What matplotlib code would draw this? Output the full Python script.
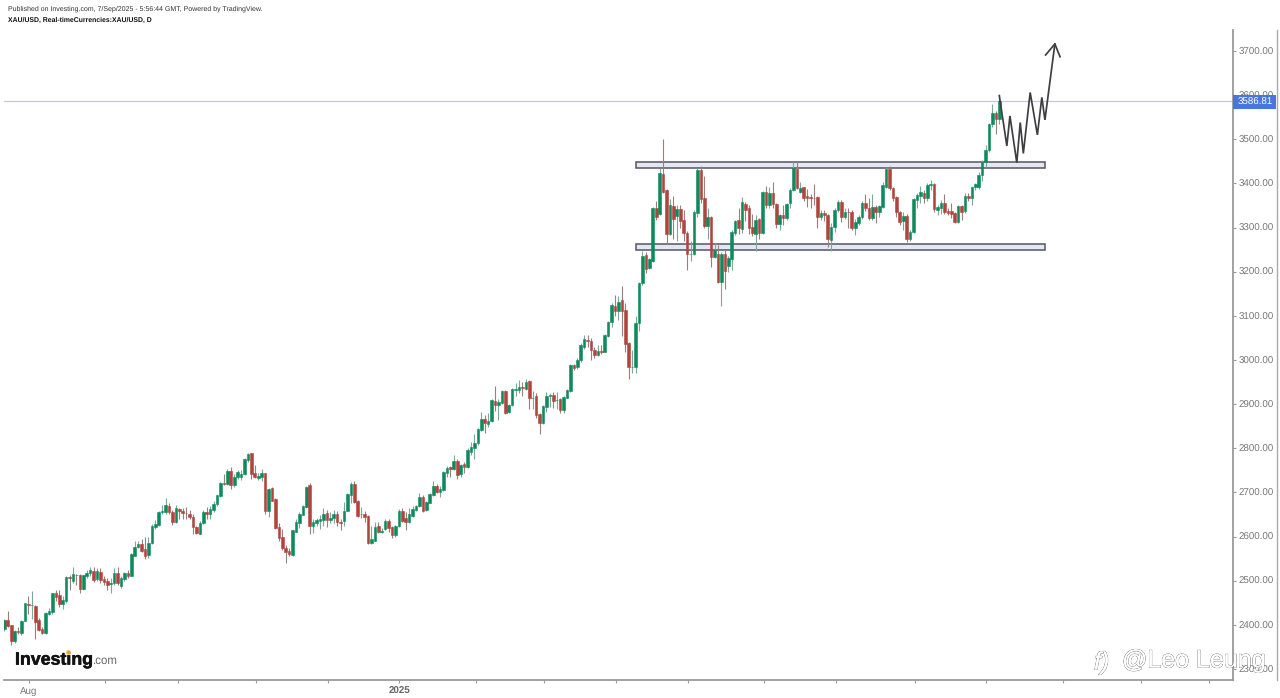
import matplotlib
matplotlib.use('Agg')
import matplotlib.pyplot as plt
import matplotlib.patheffects as pe
from matplotlib.patches import Rectangle

plt.rcParams['font.family'] = ['Liberation Sans', 'DejaVu Sans']
plt.rcParams['text.hinting'] = 'none'

# daily XAU/USD candles
opens = [
    2391, 2410, 2399, 2364, 2385, 2382, 2409, 2447, 2444, 2443, 2410, 2390, 2381, 2425, 2430, 2473,
    2468, 2447, 2455, 2509, 2499, 2513, 2512, 2481, 2511, 2518, 2523, 2503, 2520, 2504, 2500, 2493,
    2494, 2517, 2487, 2504, 2517, 2511, 2556, 2577, 2583, 2572, 2558, 2586, 2622, 2627, 2655, 2656,
    2669, 2656, 2634, 2662, 2658, 2654, 2652, 2645, 2622, 2606, 2630, 2656, 2651, 2661, 2673, 2692,
    2721, 2719, 2749, 2717, 2735, 2735, 2742, 2774, 2789, 2743, 2732, 2736, 2743, 2659, 2709, 2685,
    2622, 2598, 2575, 2567, 2559, 2611, 2631, 2649, 2668, 2717, 2624, 2631, 2635,
    2638, 2654, 2637, 2642, 2651, 2632, 2635, 2659, 2694, 2719, 2681, 2650, 2652, 2647, 2586, 2591,
    2623, 2610, 2616, 2635, 2622, 2603, 2624, 2658, 2641, 2633, 2647, 2660, 2669, 2689, 2660, 2677,
    2695, 2714, 2701, 2705, 2744, 2757, 2754, 2771, 2742, 2765, 2758, 2792, 2800, 2813, 2842, 2866,
    2854, 2862, 2908, 2897, 2902, 2930, 2882, 2897, 2933, 2932, 2939, 2935, 2953, 2915, 2919, 2878,
    2857, 2893, 2919, 2920, 2909, 2912, 2887, 2915, 2930, 2989, 2983,
    2999, 3030, 3045, 3044, 3023, 3012, 3021, 3019, 3055, 3085, 3123, 3110, 3135, 3113, 3039, 2983,
    2983, 3083,
    3174, 3238, 3209, 3225, 3344, 3331, 3421, 3384, 3285, 3348, 3326, 3342, 3317, 3288, 3240, 3239,
    3334, 3430, 3366, 3304, 3325, 3233, 3240, 3176, 3240, 3213, 3228, 3288, 3317, 3297, 3353, 3344,
    3302, 3285, 3320, 3288, 3381, 3351, 3378, 3353, 3307, 3328, 3321, 3356, 3384, 3432, 3381, 3391,
    3372, 3370, 3368, 3370, 3323, 3332, 3329, 3272,
    3302, 3340, 3358, 3325, 3336, 3336, 3300, 3311, 3325, 3355, 3345, 3321, 3347, 3336, 3347, 3392,
    3432, 3389, 3370, 3336, 3315, 3326, 3274, 3289, 3362, 3371, 3379, 3366, 3397, 3398, 3340, 3344,
    3355, 3337, 3337, 3334, 3313, 3349, 3337, 3372, 3366, 3391, 3393, 3418, 3448, 3476, 3534, 3560,
    3545,
]
highs = [
    2413, 2432, 2400, 2388, 2395, 2410, 2450, 2465, 2477, 2445, 2415, 2395, 2428, 2437, 2473, 2480,
    2478, 2465, 2510, 2513, 2530, 2515, 2515, 2514, 2525, 2530, 2530, 2528, 2528, 2510, 2505, 2505,
    2528, 2530, 2510, 2520, 2525, 2562, 2590, 2590, 2595, 2598, 2600, 2628, 2637, 2658, 2672, 2687,
    2675, 2660, 2672, 2665, 2665, 2668, 2660, 2650, 2625, 2635, 2660, 2668, 2670, 2680, 2695, 2724,
    2742, 2752, 2757, 2742, 2750, 2750, 2778, 2790, 2790, 2763, 2745, 2752, 2745, 2710, 2712, 2687,
    2630, 2618, 2580, 2575, 2615, 2640, 2656, 2672, 2715, 2722, 2640, 2642, 2648,
    2665, 2660, 2655, 2660, 2658, 2640, 2678, 2698, 2724, 2725, 2683, 2668, 2658, 2648, 2625, 2633,
    2634, 2620, 2640, 2640, 2625, 2627, 2663, 2665, 2655, 2665, 2670, 2672, 2698, 2695, 2680, 2698,
    2725, 2718, 2715, 2748, 2760, 2760, 2785, 2775, 2765, 2770, 2800, 2815, 2833, 2845, 2883, 2875,
    2880, 2912, 2942, 2912, 2932, 2932, 2900, 2937, 2947, 2955, 2950, 2957, 2955, 2930, 2925, 2880,
    2897, 2927, 2925, 2927, 2927, 2915, 2919, 2935, 2990, 2992, 3005,
    3038, 3056, 3057, 3050, 3030, 3035, 3035, 3060, 3088, 3130, 3148, 3145, 3168, 3130, 3040, 3023,
    3100, 3177,
    3246, 3245, 3232, 3347, 3360, 3435, 3500, 3388, 3365, 3371, 3350, 3350, 3340, 3292, 3270, 3340,
    3435, 3440, 3416, 3345, 3327, 3265, 3260, 3245, 3250, 3235, 3295, 3318, 3345, 3370, 3358, 3350,
    3330, 3328, 3322, 3383, 3395, 3392, 3404, 3355, 3330, 3350, 3355, 3390, 3448, 3450, 3404, 3393,
    3388, 3375, 3398, 3372, 3340, 3340, 3330, 3310,
    3345, 3362, 3362, 3345, 3345, 3340, 3320, 3328, 3360, 3375, 3368, 3376, 3352, 3352, 3404, 3437,
    3439, 3392, 3372, 3338, 3335, 3330, 3295, 3367, 3378, 3395, 3385, 3402, 3407, 3400, 3352, 3362,
    3375, 3345, 3355, 3336, 3352, 3350, 3378, 3378, 3395, 3402, 3425, 3452, 3488, 3537, 3580, 3565,
    3600,
]
lows = [
    2385, 2395, 2354, 2358, 2380, 2378, 2408, 2425, 2413, 2367, 2385, 2380, 2380, 2423, 2425, 2455,
    2440, 2435, 2450, 2480, 2495, 2490, 2472, 2478, 2505, 2510, 2498, 2500, 2495, 2490, 2480, 2473,
    2490, 2490, 2483, 2500, 2505, 2510, 2555, 2575, 2564, 2550, 2552, 2584, 2618, 2625, 2650, 2650,
    2650, 2627, 2630, 2640, 2640, 2640, 2640, 2605, 2605, 2605, 2628, 2640, 2640, 2655, 2670, 2690,
    2716, 2716, 2708, 2712, 2730, 2727, 2740, 2770, 2730, 2732, 2728, 2725, 2652, 2645, 2680, 2617,
    2590, 2570, 2539, 2556, 2557, 2610, 2620, 2648, 2665, 2605, 2608, 2625, 2618,
    2625, 2622, 2630, 2630, 2625, 2614, 2625, 2657, 2676, 2676, 2645, 2643, 2634, 2584, 2584, 2590,
    2608, 2609, 2615, 2610, 2597, 2600, 2622, 2634, 2615, 2630, 2645, 2658, 2667, 2655, 2657, 2675,
    2692, 2698, 2690, 2703, 2735, 2735, 2750, 2730, 2735, 2745, 2755, 2785, 2775, 2808, 2840, 2835,
    2848, 2860, 2885, 2865, 2900, 2878, 2880, 2895, 2918, 2925, 2918, 2933, 2890, 2888, 2868, 2833,
    2855, 2882, 2893, 2892, 2890, 2880, 2881, 2913, 2928, 2978, 2980,
    2995, 3025, 3030, 3000, 3005, 3008, 3014, 3017, 3053, 3075, 3100, 3090, 3055, 3018, 2957, 2970,
    2970, 3065,
    3170, 3198, 3207, 3222, 3317, 3328, 3378, 3263, 3283, 3273, 3270, 3300, 3270, 3204, 3225, 3238,
    3325, 3355, 3300, 3275, 3210, 3230, 3175, 3122, 3160, 3200, 3205, 3283, 3285, 3288, 3315, 3285,
    3280, 3246, 3275, 3286, 3345, 3345, 3345, 3300, 3295, 3305, 3318, 3345, 3382, 3387, 3378, 3360,
    3347, 3345, 3352, 3298, 3318, 3315, 3255, 3248,
    3290, 3335, 3312, 3320, 3300, 3295, 3283, 3305, 3320, 3338, 3318, 3318, 3310, 3325, 3344, 3390,
    3385, 3360, 3325, 3305, 3295, 3268, 3270, 3287, 3345, 3355, 3355, 3360, 3385, 3335, 3328, 3330,
    3330, 3328, 3322, 3311, 3311, 3318, 3333, 3360, 3350, 3385, 3388, 3405, 3438, 3472, 3527, 3512,
    3535,
]
closes = [
    2411, 2397, 2364, 2387, 2384, 2408, 2449, 2444, 2445, 2407, 2388, 2381, 2426, 2432, 2471, 2464,
    2447, 2456, 2508, 2505, 2515, 2512, 2482, 2513, 2517, 2524, 2502, 2523, 2502, 2498, 2491, 2494,
    2517, 2494, 2505, 2517, 2511, 2560, 2577, 2583, 2567, 2556, 2586, 2624, 2628, 2656, 2658, 2671,
    2656, 2634, 2664, 2657, 2654, 2653, 2644, 2622, 2607, 2630, 2656, 2651, 2662, 2673, 2693, 2721,
    2720, 2749, 2717, 2736, 2747, 2742, 2776, 2786, 2742, 2734, 2737, 2743, 2659, 2708, 2681, 2620,
    2596, 2573, 2564, 2560, 2614, 2632, 2651, 2670, 2712, 2624, 2632, 2637, 2640,
    2652, 2637, 2643, 2651, 2632, 2631, 2659, 2696, 2720, 2678, 2647, 2650, 2644, 2586, 2594, 2622,
    2611, 2613, 2635, 2620, 2604, 2624, 2659, 2636, 2633, 2650, 2662, 2669, 2689, 2658, 2678, 2696,
    2714, 2701, 2708, 2746, 2755, 2752, 2772, 2740, 2762, 2758, 2795, 2802, 2813, 2843, 2866, 2857,
    2862, 2909, 2897, 2905, 2929, 2881, 2898, 2935, 2934, 2939, 2936, 2951, 2915, 2915, 2875, 2857,
    2895, 2919, 2920, 2908, 2910, 2887, 2917, 2932, 2988, 2982, 3001,
    3034, 3048, 3043, 3023, 3011, 3020, 3018, 3057, 3085, 3125, 3112, 3132, 3112, 3037, 2983, 2984,
    3083, 3175,
    3236, 3206, 3228, 3345, 3325, 3424, 3381, 3285, 3350, 3319, 3342, 3316, 3287, 3240, 3240, 3336,
    3430, 3364, 3304, 3325, 3233, 3249, 3177, 3240, 3202, 3230, 3291, 3315, 3298, 3358, 3340, 3300,
    3288, 3317, 3288, 3381, 3351, 3378, 3353, 3308, 3328, 3321, 3353, 3385, 3434, 3389, 3389, 3366,
    3368, 3366, 3367, 3323, 3332, 3329, 3273, 3302,
    3340, 3358, 3325, 3336, 3335, 3300, 3313, 3323, 3355, 3344, 3321, 3347, 3336, 3349, 3396, 3432,
    3389, 3366, 3336, 3312, 3326, 3274, 3291, 3364, 3374, 3380, 3368, 3396, 3399, 3342, 3347, 3355,
    3335, 3334, 3330, 3313, 3349, 3336, 3371, 3366, 3392, 3398, 3419, 3449, 3476, 3535, 3560, 3545,
    3586.81,
]

last_price = 3586.81
y_ticks = [2300, 2400, 2500, 2600, 2700, 2800, 2900, 3000, 3100, 3200, 3300, 3400, 3500, 3600, 3700]
month_ticks = [7.2, 29.2, 50.6, 73.4, 94.3, 115.1, 137.4, 157.3, 178.3, 199.3, 221.4, 242.4,
               265.3, 286.2, 308.5, 331.3, 351.1]
tick_labels = {7.2: ('Aug', 'normal'), 115.1: ('2025', 'bold')}

# hand drawn range boxes and projected path
box_left, box_right = 184.0, 303.3
upper_box = (3435, 3449)
lower_box = (3249, 3263)
path_x = [290, 292.2, 293.1, 295.1, 296.1, 297, 299, 301.1, 302.4, 303.3, 306.2]
path_y = [3599, 3485, 3553, 3447, 3538, 3468, 3606, 3510, 3595, 3544, 3716]
head_x = [303.5, 306.2, 307.7]
head_y = [3691, 3716, 3687]

GREEN = '#0e8a5d'
RED = '#b1453e'
WICK_G = '#7fa797'
WICK_R = '#9a807c'
TXT = '#777777'
AXIS = '#9a9a9a'

W, H = 1280, 698
fig = plt.figure(figsize=(W / 100, H / 100), dpi=100)
ax = fig.add_axes([4 / W, 1 - 680 / H, (1233 - 4) / W, (680 - 30) / H])

n = len(opens)
step = 3.431
xs = list(range(n))

up = [c >= o for o, c in zip(opens, closes)]
ax.vlines(xs, lows, highs, colors=[WICK_G if u else WICK_R for u in up], linewidth=0.8, zorder=2)
for x, o, c, u in zip(xs, opens, closes, up):
    col = GREEN if u else RED
    ax.bar(x, abs(c - o), bottom=min(o, c), width=0.76, color=col, edgecolor=col, linewidth=0.4, zorder=3)

ax.set_xlim(-0.1, (1233 - 4.3) / step)
ax.set_ylim(2275, 3747.6)

ax.axhline(last_price, color='#c3c8d6', linewidth=0.9, zorder=1)

# boxes sit under the candles so wicks and bodies show through
for lo, hi in (upper_box, lower_box):
    ax.add_patch(Rectangle((box_left, lo), box_right - box_left, hi - lo, facecolor='#e4e8f6',
                           edgecolor='#55565c', linewidth=1.1, zorder=1.5))

ax.plot(path_x, path_y, color='#3f3f42', linewidth=1.25, solid_joinstyle='miter', zorder=5)
ax.plot(head_x, head_y, color='#3f3f42', linewidth=1.25, solid_joinstyle='miter', zorder=5)

for side in ('top', 'left'):
    ax.spines[side].set_visible(False)
for side in ('right', 'bottom'):
    ax.spines[side].set_color(AXIS)
    ax.spines[side].set_linewidth(1.3)

ax.yaxis.tick_right()
ax.set_yticks(y_ticks)
ax.set_yticklabels(['%.2f' % v for v in y_ticks], fontsize=7, color=TXT)
ax.tick_params(axis='y', length=2.5, width=0.8, color=AXIS, pad=1.2)
ax.set_xticks(month_ticks)
ax.set_xticklabels([''] * len(month_ticks))
ax.tick_params(axis='x', length=2.5, width=0.8, color=AXIS)

for pos, (label, weight) in tick_labels.items():
    ax.annotate(label, (pos, 0), xycoords=('data', 'axes fraction'), xytext=(0, -4.5),
                textcoords='offset points', ha='center', va='top', fontsize=7,
                color=TXT if weight == 'normal' else '#666666', fontweight=weight)

# outer frame line right of the price scale
fig.add_artist(plt.Line2D([1276.5 / W, 1276.5 / W], [1 - 680 / H, 1 - 30 / H], color='#aaaaaa', linewidth=1.0))

# last price tag
fig.add_artist(Rectangle((1233 / W, 1 - 108.5 / H), 43 / W, 13.5 / H, transform=fig.transFigure,
                         facecolor='#4a74e0', edgecolor='none', zorder=6))
fig.text(1255 / W, 1 - 102 / H, '3586.81', fontsize=7, color='white', ha='center', va='center', zorder=7)

fig.text(8 / W, 1 - 8.5 / H, 'Published on Investing.com, 7/Sep/2025 - 5:56:44 GMT, Powered by TradingView.',
         fontsize=5.0, color='#333333', va='center')
fig.text(8 / W, 1 - 20.5 / H, 'XAU/USD, Real-timeCurrencies:XAU/USD, D', fontsize=4.97, color='#111111',
         fontweight='bold', va='center')

# Investing.com logo
fig.text(15 / W, 1 - 660 / H, 'Investing', fontsize=12.8, fontweight='bold', color='#111111', va='center', zorder=6,
         path_effects=[pe.withStroke(linewidth=0.4, foreground='#111111')])
fig.text(92.5 / W, 1 - 661 / H, '.com', fontsize=8.3, color='#666666', va='center', zorder=6)
fig.add_artist(plt.Line2D([68 / W], [1 - 652 / H], marker='o', markersize=2.2, color='#f5a623', zorder=7))

# watermark
outline = [pe.withStroke(linewidth=0.6, foreground='#555555'), pe.Normal()]
fig.text(1122 / W, 1 - 661 / H, '@Leo Leung', fontsize=18, color='white', va='center', zorder=8,
         path_effects=outline)
fig.text(1094 / W, 1 - 663 / H, 'f)', fontsize=18, style='italic', color='white', va='center', zorder=8,
         path_effects=outline)

fig.savefig('out.png', dpi=100, facecolor='white')
